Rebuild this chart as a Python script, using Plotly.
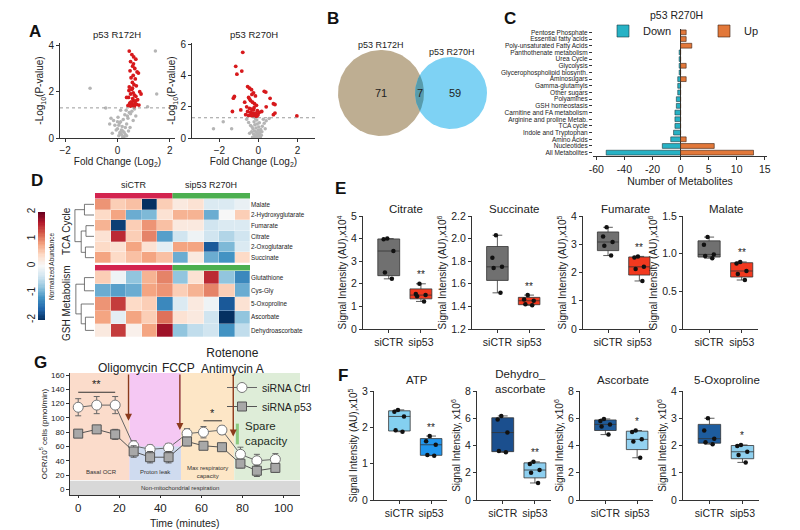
import numpy as np
import plotly.graph_objects as go

# page is 800x530; the html body has an 8 px margin, so the figure is 792x522 placed at (8, 8)
OFF = 8
W, H = 800 - OFF, 530 - OFF
FONT = "Arial, Liberation Sans, Helvetica, sans-serif"
INK = "#222222"


def dx(a, b):
    return [(a - OFF) / W, (b - OFF) / W]


def dy(top, bottom):
    return [1 - (bottom - OFF) / H, 1 - (top - OFF) / H]


def px(x):
    return (x - OFF) / W


def py(y):
    return 1 - (y - OFF) / H


# ======================= DATA =======================
# ---- A: volcano p53 R172H (log2 fold change, -log10 p) ----
r172_sig_fc = [0.45, 0.55, 0.62, 0.50, 0.70, 0.58, 0.66, 0.48, 0.75, 0.60, 0.52, 0.68, 0.80, 0.57, 0.63,
               0.72, 0.45, 0.55, 0.85, 0.60, 0.50, 0.65, 0.70, 0.42, 0.58, 0.77, 0.62, 0.53, 0.47, 0.67,
               0.73, 0.56, 0.40, 0.60, 0.82, 0.50, 0.64, 0.69, 0.44, 0.57, 0.61, 0.90, 0.35, 0.52]
r172_sig_p = [3.75, 3.60, 3.50, 3.30, 3.40, 3.10, 3.00, 2.90, 2.85, 2.70, 2.60, 2.55, 2.80, 2.40, 2.30,
              2.25, 2.20, 2.10, 2.00, 1.95, 1.90, 1.85, 1.80, 1.75, 1.70, 1.65, 1.60, 1.55, 1.50, 1.50,
              1.45, 1.45, 1.40, 1.40, 1.42, 1.38, 1.36, 1.60, 2.05, 2.15, 3.20, 1.90, 1.75, 1.55]
r172_ns_fc = [-1.05, 1.45, 1.50, 1.15, -0.45, 0.05, 0.10, 0.15, 0.20, 0.25, 0.00, -0.05, -0.10, 0.30, 0.35,
              0.12, 0.18, 0.22, 0.08, 0.02, -0.15, 0.28, 0.40, 0.45, 0.33, 0.38, 0.50, 0.55, 0.25, 0.15,
              0.05, -0.20, -0.30, 0.60, 0.42, 0.30, 0.20, 0.10, 0.48, 0.35, 0.65, 0.70, -0.25, 0.00, 0.12]
r172_ns_p = [2.15, 3.75, 1.90, 1.35, 1.30, 0.10, 0.20, 0.15, 0.30, 0.25, 0.40, 0.35, 0.55, 0.45, 0.60,
             0.70, 0.50, 0.80, 0.65, 0.90, 0.75, 1.00, 0.85, 1.10, 1.20, 0.95, 1.05, 1.15, 0.05, 0.35,
             0.55, 0.20, 0.60, 0.75, 0.30, 0.15, 0.05, 0.25, 0.45, 0.10, 1.25, 0.95, 0.85, 0.70, 1.20]
# ---- A: volcano p53 R270H ----
r270_sig_fc = [-0.80, -1.16, -1.10, -0.85, -1.23, -1.28, -1.33, 0.30, 0.38, 0.60, 0.77, 0.85, 0.40, 0.17,
               0.77, 0.85, 1.97,
               -0.55, -0.45, -0.35, -0.25, -0.15, -0.50, -0.40, -0.30, -0.20, -0.10, -0.60, -0.45, -0.35,
               -0.25, -0.05, -0.55, -0.40, -0.30, -0.20, -0.15, -0.65, -0.50, -0.38, -0.28, -0.18, -0.08,
               -0.45, -0.33, -0.22, -0.12, -0.70, -0.90, -0.02, 0.05]
r270_sig_p = [5.50, 4.60, 4.10, 4.30, 2.67, 2.56, 1.70, 3.00, 2.95, 2.55, 2.20, 2.15, 2.00, 1.70,
              1.50, 1.60, 1.42,
              3.30, 3.20, 3.10, 2.90, 2.70, 2.60, 2.40, 2.30, 2.20, 2.10, 2.00, 1.90, 1.85,
              1.80, 1.75, 1.70, 1.65, 1.60, 1.55, 1.50, 1.50, 1.45, 1.45, 1.40, 1.40, 1.40,
              2.50, 2.80, 1.95, 1.60, 2.30, 1.80, 1.50, 1.65]
r270_ns_fc = [-2.30, -1.80, -1.37, -0.30, -0.20, -0.10, 0.00, 0.10, -0.25, -0.15, -0.05, 0.05, 0.15, -0.35,
              -0.20, -0.10, 0.00, 0.08, -0.28, -0.12, 0.02, 0.12, -0.40, -0.18, -0.06, 0.20, 0.30, -0.50,
              0.40, -0.08, -0.22, 0.25, -0.15, 0.05, -0.32, -0.02, 0.18, -0.45, 0.35, -0.60, 0.55]
r270_ns_p = [0.60, 1.05, 0.60, 0.05, 0.10, 0.08, 0.12, 0.06, 0.25, 0.20, 0.30, 0.22, 0.18, 0.40,
             0.45, 0.38, 0.50, 0.35, 0.60, 0.65, 0.70, 0.55, 0.80, 0.85, 0.90, 0.75, 0.95, 1.00,
             1.10, 1.15, 1.05, 1.20, 1.25, 0.98, 0.70, 0.15, 0.40, 0.30, 0.60, 1.20, 1.25]
p_threshold = 1.3

# ---- B: Venn ----
venn_names = ["p53 R172H", "p53 R270H"]
venn_counts = [71, 7, 59]

# ---- C: pathway counts (p53 R270H) ----
pathways = ["Pentose Phosphate", "Essential fatty acids", "Poly-unsaturated Fatty Acids",
            "Panthothenate metabolism", "Urea Cycle", "Glycolysis", "Glycerophospholipid biosynth.",
            "Aminosugars", "Gamma-glutamyls", "Other sugars", "Polyamines", "GSH homeostasis",
            "Carnitine and FA metabolism", "Arginine and proline Metab.", "TCA cycle",
            "Indole and Tryptophan", "Amino Acids", "Nucleotides", "All Metabolites"]
down_counts = [0, 0, 0, 1, 1, 1, 1, 2, 2, 2, 3, 3, 4, 4, 4, 5, 7, 13, 53]
up_counts = [1, 1, 2, 0, 0, 1, 0, 1, 0, 0, 0, 0, 0, 0, 0, 0, 1, 6, 13]
c_ticks = [-60, -40, -20, 0, 5, 10, 15]
C_NEG_SCALE = 4  # left half of the axis is compressed 4x

# ---- D: heatmap (normalized abundance) ----
groups = ["siCTR", "sip53 R270H"]
tca_rows = ["Malate", "2-Hydroxyglutarate", "Fumarate", "Citrate", "2-Oxoglutarate", "Succinate"]
tca_vals = [
    [0.9, 0.5, 0.6, -2.0, 0.5, 0.2, 0.3, -0.3, -0.3, -0.15],
    [0.4, 0.8, -1.0, -0.9, 0.3, 0.7, 0.7, -1.0, 0.0, 0.5],
    [0.7, -1.9, 0.5, 0.9, 0.6, 0.2, 0.2, -0.4, -0.3, -0.3],
    [0.3, 1.5, 0.5, 1.0, -1.1, -0.4, -0.1, -0.4, -0.6, -0.4],
    [0.4, 0.3, 0.8, 0.3, -0.2, 0.8, 0.8, -1.7, -0.9, -0.3],
    [0.8, 0.4, 0.6, 0.8, 0.6, -1.0, 0.2, -1.0, -1.2, 0.4],
]
gsh_rows = ["Glutathione", "Cys-Gly", "5-Oxoproline", "Ascorbate", "Dehydroascorbate"]
gsh_vals = [
    [0.5, -0.1, -0.8, 0.7, 1.0, -0.8, 0.3, 1.5, -0.8, -1.3],
    [-1.0, -1.1, -1.0, 0.8, 0.9, 0.5, 0.7, 1.0, 0.5, -1.0],
    [0.9, 1.4, 0.4, 0.5, -1.3, -0.3, 0.2, -0.1, -1.7, 0.3],
    [0.8, -0.2, 0.8, 0.5, 1.1, 0.3, 0.2, -0.4, -2.0, -0.8],
    [0.2, 1.4, 0.1, 0.8, 1.7, -0.8, -0.5, -0.4, -1.2, -0.5],
]
# row clustering: (node a, node b, merge height)
tca_linkage = [(0, 1, 0.50), (2, 3, 0.42), (4, 5, 0.45), (7, 8, 0.67), (6, 9, 1.00)]
gsh_linkage = [(0, 1, 0.50), (3, 4, 0.45), (2, 6, 0.67), (5, 7, 0.95)]
cbar_ticks = [-2, -1, 0, 1, 2]

# ---- E: TCA metabolites (siCTR vs sip53) ----
e_names = ["Citrate", "Succinate", "Fumarate", "Malate"]
e_exp = [4, 6, 5, 6]
e_ctr = [[4.0, 3.97, 3.45, 2.5, 2.22], [2.03, 1.83, 1.75, 1.74, 1.52],
         [3.6, 3.27, 3.08, 2.95, 2.6], [1.22, 1.12, 0.99, 0.97, 0.94]]
e_p53 = [[2.0, 1.55, 1.5, 1.45, 1.22], [1.50, 1.46, 1.45, 1.42, 1.41],
         [2.57, 2.53, 2.2, 2.12, 1.7], [0.89, 0.87, 0.77, 0.73, 0.65]]
e_stars = ["**", "**", "**", "**"]

# ---- F: ATP / GSH metabolites ----
f_names = ["ATP", "Dehydro_<br>ascorbate", "Ascorbate", "5-Oxoproline"]
f_ytitles = ["Signal Intensity (AU),x10<sup>5</sup>", "Signal Intensity, x10<sup>6</sup>",
             "Signal Intensity, x10<sup>6</sup>", "Signal Intensity, x10<sup>6</sup>"]
f_ctr = [[2.48, 2.43, 2.3, 1.92, 1.88], [6.17, 5.9, 4.95, 3.6, 3.5],
         [5.95, 5.8, 5.55, 5.4, 4.8], [3.0, 2.55, 2.25, 2.12, 2.05]]
f_p53 = [[1.76, 1.62, 1.52, 1.24, 1.22], [2.8, 2.65, 2.2, 2.0, 1.25],
         [5.1, 5.0, 4.45, 4.3, 3.1], [2.02, 1.98, 1.77, 1.65, 1.38]]
f_stars = ["**", "**", "*", "*"]
box_groups = ["siCTR", "sip53"]

# ---- G: Seahorse OCR ----
g_time = [0, 9, 18, 27, 35, 44, 53, 61, 70, 79, 87, 96]
g_ctrl = [115, 118, 118, 61, 56, 58, 78, 80, 83, 49, 40, 42]
g_ctrl_err = [12, 12, 12, 7, 6, 6, 7, 8, 6, 10, 9, 8]
g_p53 = [78, 84, 77, 53, 45, 45, 67, 61, 59, 36, 26, 30]
g_p53_err = [5, 4, 7, 8, 8, 8, 6, 4, 5, 6, 8, 6]
injections = ["Oligomycin", "FCCP", "Rotenone<br>Antimycin A"]
inj_times = [25, 50, 76]
region_names = ["Basal OCR", "Proton leak", "Max respiratory<br>capacity"]

# ======================= FIGURE =======================
fig = go.Figure()
L = dict(width=W, height=H, margin=dict(l=0, r=0, t=0, b=0, autoexpand=False), paper_bgcolor="white",
         plot_bgcolor="rgba(0,0,0,0)", font=dict(family=FONT, color=INK, size=10),
         hovermode=False, barmode="overlay", boxmode="overlay")
ann = []
shp = []


def axis(**kw):
    base = dict(showgrid=False, zeroline=False, showline=True, linecolor="#333333", linewidth=1,
                ticks="outside", ticklen=3, tickwidth=1, tickcolor="#333333", automargin=False,
                tickfont=dict(size=10, family=FONT, color=INK))
    base.update(kw)
    return base


def label(x, y, text, size=10, color=INK, **kw):
    d = dict(x=x, y=y, xref="paper", yref="paper", text=text, showarrow=False,
             xanchor="center", yanchor="middle",
             font=dict(size=size, family=FONT, color=color))
    d.update(kw)
    ann.append(d)


# panel letters
for letter, (lx, ly) in zip("ABCDEFG", [(35, 32), (333, 18), (510, 19), (37, 180), (340, 188),
                                         (343, 375), (40, 362)]):
    label(px(lx), py(ly), "<b>%s</b>" % letter, 17, color="#111")

# ---------------- A ----------------
volc = [
    ("x", "y", dx(60, 175), [-2.2, 2.2], [0, 2, 4], [0, 4.1], venn_names[0],
     r172_sig_fc, r172_sig_p, r172_ns_fc, r172_ns_p),
    ("x2", "y2", dx(192, 315), [-3.4, 2.9], [0, 2, 4, 6], [0, 6.1], venn_names[1],
     r270_sig_fc, r270_sig_p, r270_ns_fc, r270_ns_p),
]
for xa, ya, xd, xr, ytv, yr, title, sfc, sp, nfc, npv in volc:
    xkey = "xaxis" + xa[1:]
    ykey = "yaxis" + ya[1:]
    L[xkey] = axis(domain=xd, range=xr, tickvals=[-2, 0, 2], anchor=ya,
                   title=dict(text="Fold Change (Log<sub>2</sub>)", font=dict(size=10), standoff=1))
    L[ykey] = axis(domain=dy(43, 138), range=yr, tickvals=ytv, anchor=xa,
                   title=dict(text="-Log<sub>10</sub>(P-value)", font=dict(size=10), standoff=2))
    fig.add_trace(go.Scatter(x=nfc, y=npv, mode="markers", xaxis=xa, yaxis=ya, showlegend=False,
                             marker=dict(size=3.5, color="#b5b5b5")))
    fig.add_trace(go.Scatter(x=sfc, y=sp, mode="markers", xaxis=xa, yaxis=ya, showlegend=False,
                             marker=dict(size=3.8, color="#d7191c")))
    shp.append(dict(type="line", xref=xa, yref=ya, x0=xr[0], x1=xr[1], y0=p_threshold, y1=p_threshold,
                    line=dict(color="#9a9a9a", width=1, dash="dot")))
    mid = (xd[0] + xd[1]) / 2
    label(mid, py(35), title, 9.5)

# ---------------- B: Venn ----------------
L["xaxis3"] = dict(domain=dx(330, 500), range=[330, 500], visible=False, anchor="y3")
L["yaxis3"] = dict(domain=dy(30, 150), range=[150, 30], visible=False, anchor="x3")
c1 = (381.0, 93.0, 43.0)
c2 = (451.0, 93.0, 36.0)
th = np.linspace(0, 2 * np.pi, 160)
for (cx, cy, r), col in [(c1, "rgb(190,174,146)"), (c2, "rgb(126,210,244)")]:
    fig.add_trace(go.Scatter(x=cx + r * np.cos(th), y=cy + r * np.sin(th), mode="lines", fill="toself",
                             fillcolor=col, line=dict(width=0, color=col), xaxis="x3", yaxis="y3",
                             showlegend=False))
d = c2[0] - c1[0]
a = (c1[2] ** 2 - c2[2] ** 2 + d ** 2) / (2 * d)
hh = np.sqrt(c1[2] ** 2 - a ** 2)
phi1 = np.arctan2(hh, a)
phi2 = np.arctan2(hh, a - d)
t1 = np.linspace(-phi1, phi1, 40)
t2 = np.linspace(phi2, 2 * np.pi - phi2, 40)
lx = np.concatenate([c1[0] + c1[2] * np.cos(t1), c2[0] + c2[2] * np.cos(t2)])
ly = np.concatenate([c1[1] + c1[2] * np.sin(t1), c2[1] + c2[2] * np.sin(t2)])
fig.add_trace(go.Scatter(x=lx, y=ly, mode="lines", fill="toself", fillcolor="rgb(88,156,172)",
                         line=dict(width=0, color="rgb(88,156,172)"), xaxis="x3", yaxis="y3",
                         showlegend=False))
for xx, yy, txt, sz in [(c1[0], 45, venn_names[0], 9), (c2[0] + 1, 52, venn_names[1], 9),
                        (c1[0], c1[1], str(venn_counts[0]), 11),
                        ((c1[0] + c1[2] + c2[0] - c2[2]) / 2, c1[1], str(venn_counts[1]), 11),
                        (c2[0] + 4, c2[1], str(venn_counts[2]), 11)]:
    ann.append(dict(x=xx, y=yy, xref="x3", yref="y3", text=txt, showarrow=False,
                    font=dict(size=sz, family=FONT, color=INK)))

# ---------------- C: bars ----------------
ctv = [v / C_NEG_SCALE if v < 0 else v for v in c_ticks]
L["xaxis4"] = axis(domain=dx(593, 767), range=[-15.6, 15.4], tickvals=ctv,
                   ticktext=[str(v) for v in c_ticks], anchor="y4",
                   tickfont=dict(size=10.5, family=FONT, color=INK),
                   zeroline=True, zerolinecolor="#333333", zerolinewidth=1,
                   title=dict(text="Number of Metabolites", font=dict(size=10.5), standoff=3))
L["yaxis4"] = dict(domain=dy(29, 156), anchor="x4", autorange="reversed", showline=False,
                   tickmode="array", tickvals=pathways, ticktext=pathways, automargin=False,
                   ticks="outside", ticklen=3, tickcolor="#333", showgrid=False, zeroline=False,
                   tickfont=dict(size=6.5, family=FONT, color=INK))
fig.add_trace(go.Bar(y=pathways, x=[-v / C_NEG_SCALE for v in down_counts], orientation="h", name="Down",
                     width=0.72, marker=dict(color="#27b2c5", line=dict(color="#1b3a40", width=0.6)),
                     xaxis="x4", yaxis="y4", legend="legend"))
fig.add_trace(go.Bar(y=pathways, x=up_counts, orientation="h", name="Up", width=0.72,
                     marker=dict(color="#e2783a", line=dict(color="#3a2010", width=0.6)),
                     xaxis="x4", yaxis="y4", legend="legend"))
label(px(676), py(15), "p53 R270H", 10.5)
L["legend"] = dict(orientation="h", x=px(603), y=py(31), xanchor="left", yanchor="middle",
                   font=dict(size=11, family=FONT, color=INK), entrywidth=56, entrywidthmode="pixels",
                   bgcolor="rgba(0,0,0,0)", itemwidth=30)

# ---------------- D: heatmaps ----------------
rdbu = ["#053061", "#2166ac", "#4393c3", "#92c5de", "#d1e5f0", "#f7f7f7",
        "#fddbc7", "#f4a582", "#d6604d", "#b2182b", "#67001f"]
HM = [[i / 10, c] for i, c in enumerate(rdbu)]
ncol = len(tca_vals[0])
half = ncol // 2
for xa, ya, xk, yk, rows, vals, top, bottom, bar_top in [
        ("x5", "y5", "xaxis5", "yaxis5", tca_rows, tca_vals, 199, 263, 193),
        ("x6", "y6", "xaxis6", "yaxis6", gsh_rows, gsh_vals, 271, 337, 265)]:
    n = len(rows)
    L[xk] = dict(domain=dx(95, 250), range=[-0.5, ncol - 0.5], visible=False, anchor=ya)
    L[yk] = dict(domain=dy(top, bottom), range=[n - 0.5, -0.5], anchor=xa, side="right",
                 tickvals=list(range(n)), ticktext=rows, ticks="", showline=False, showgrid=False,
                 zeroline=False, automargin=False, tickfont=dict(size=6.3, family=FONT, color=INK))
    fig.add_trace(go.Heatmap(z=vals, x=list(range(ncol)), y=list(range(n)), colorscale=HM, zmin=-2,
                             zmax=2, showscale=False, xaxis=xa, yaxis=ya, xgap=0.3, ygap=0.3))
    shp.append(dict(type="rect", xref=xa, yref="paper", x0=-0.5, x1=half - 0.5, y0=py(bar_top + 5.5),
                    y1=py(bar_top), fillcolor="#d3244f", line=dict(width=0)))
    shp.append(dict(type="rect", xref=xa, yref="paper", x0=half - 0.5, x1=ncol - 0.5,
                    y0=py(bar_top + 5.5), y1=py(bar_top), fillcolor="#4caf50", line=dict(width=0)))
ann.append(dict(x=(half - 1) / 2, y=py(185), xref="x5", yref="paper", text=groups[0], showarrow=False,
                xanchor="center", yanchor="middle", font=dict(size=9, family=FONT, color=INK)))
ann.append(dict(x=(half + ncol - 1) / 2, y=py(185), xref="x5", yref="paper", text=groups[1],
                xanchor="center", yanchor="middle",
                showarrow=False, font=dict(size=9, family=FONT, color=INK)))


def dendro(linkage, n):
    pos = {i: float(i) for i in range(n)}
    hgt = {i: 0.0 for i in range(n)}
    xs, ys = [], []
    for k, (aa, bb, h) in enumerate(linkage):
        xs += [hgt[aa], h, h, hgt[bb], None]
        ys += [pos[aa], pos[aa], pos[bb], pos[bb], None]
        pos[n + k] = (pos[aa] + pos[bb]) / 2
        hgt[n + k] = h
    return xs, ys


for xk, xa, ya, link, n in [("xaxis7", "x7", "y5", tca_linkage, len(tca_rows)),
                            ("xaxis8", "x8", "y6", gsh_linkage, len(gsh_rows))]:
    L[xk] = dict(domain=dx(73, 94), range=[1.1, 0], visible=False, anchor=ya)
    xs, ys = dendro(link, n)
    fig.add_trace(go.Scatter(x=xs, y=ys, mode="lines", line=dict(color="#555555", width=0.8),
                             xaxis=xa, yaxis=ya, showlegend=False))

# colour key
L["xaxis9"] = dict(domain=dx(38, 45), range=[-0.5, 0.5], visible=False, anchor="y9")
L["yaxis9"] = dict(domain=dy(212, 320), range=[-2, 2], anchor="x9", tickvals=cbar_ticks,
                   ticktext=[str(v) for v in cbar_ticks], tickangle=-90, ticks="", showline=False,
                   showgrid=False, zeroline=False, automargin=False,
                   tickfont=dict(size=10, family=FONT, color=INK))
levels = np.linspace(-2, 2, 81)
fig.add_trace(go.Heatmap(z=[[v] for v in levels], x=[0], y=levels, colorscale=HM, zmin=-2, zmax=2,
                         showscale=False, xaxis="x9", yaxis="y9"))
label(px(51), py(266), "Normalized Abundance", 6.5, textangle=-90)
label(px(66), py(231), "TCA Cycle", 10, textangle=-90)
label(px(66), py(303), "GSH Metabolism", 10, textangle=-90)


# ---------------- E & F: box plots ----------------
def box_panel(idx, xd, ydom, yr, tv, tt, ytitle, ctr, p53, cfill, pfill, star, title, title_y):
    xa, ya = "x%d" % idx, "y%d" % idx
    L["xaxis%d" % idx] = axis(domain=dx(*xd), range=[-0.8, 1.5], tickvals=[0, 1], ticktext=box_groups,
                              anchor=ya, tickangle=0, tickfont=dict(size=10.5, family=FONT, color=INK))
    L["yaxis%d" % idx] = axis(domain=dy(*ydom), range=yr, tickvals=tv, ticktext=tt, anchor=xa,
                              tickfont=dict(size=10.5, family=FONT, color=INK),
                              title=dict(text=ytitle, font=dict(size=10), standoff=2))
    for pos, vals, fill in [(0, ctr, cfill), (1, p53, pfill)]:
        fig.add_trace(go.Box(x=[pos] * len(vals), y=vals, width=0.68, fillcolor=fill,
                             line=dict(color="#333333", width=0.8), boxpoints="all", jitter=0.55,
                             pointpos=0, marker=dict(color="#111111", size=4.5), whiskerwidth=0.45,
                             quartilemethod="exclusive", xaxis=xa, yaxis=ya, showlegend=False))
    ann.append(dict(x=1, y=max(p53), xref=xa, yref=ya, text=star, showarrow=False, yshift=9,
                    font=dict(size=10, family=FONT, color="#222222")))
    label(px((xd[0] + xd[1]) / 2 + 6), py(title_y), title, 11.5)


e_xd = [(363, 437), (472, 545), (583, 655), (683, 758)]
e_yr = [[0, 5], [1.2, 2.2], [0, 4], [0, 1.5]]
e_tv = [[0, 1, 2, 3, 4, 5], [1.2, 1.4, 1.6, 1.8, 2.0, 2.2], [0, 1, 2, 3, 4], [0, 0.5, 1.0, 1.5]]
e_tt = [["0", "1", "2", "3", "4", "5"], ["1.2", "1.4", "1.6", "1.8", "2.0", "2.2"],
        ["0", "1", "2", "3", "4"], ["0", "0.5", "1.0", "1.5"]]
for i in range(4):
    box_panel(10 + i, e_xd[i], (216, 329), e_yr[i], e_tv[i], e_tt[i],
              "Signal Intensity (AU),x10<sup>%d</sup>" % e_exp[i], e_ctr[i], e_p53[i],
              "#707070", "#f2391f", e_stars[i], e_names[i], 209)

f_xd = [(374, 447), (477, 551), (580, 653), (683, 759)]
f_yr = [[0, 3], [0, 8], [0, 8], [0, 4]]
f_tv = [[0, 1, 2, 3], [0, 2, 4, 6, 8], [0, 2, 4, 6, 8], [0, 1, 2, 3, 4]]
f_cfill = ["#84d0f0", "#1b4f8e", "#1f5b9a", "#1d5c9e"]
f_pfill = ["#2196ee", "#8dcff0", "#94d2f1", "#8fd0ef"]
f_ty = [380, 381, 380, 380]
for i in range(4):
    box_panel(14 + i, f_xd[i], (391, 500), f_yr[i], f_tv[i], [str(v) for v in f_tv[i]], f_ytitles[i],
              f_ctr[i], f_p53[i], f_cfill[i], f_pfill[i], f_stars[i], f_names[i], f_ty[i])

# ---------------- G: OCR ----------------
GX = [-4, 108]
GY = [-8, 163]
BASE = 13
L["xaxis18"] = axis(domain=dx(70, 300), range=GX, tickvals=[0, 20, 40, 60, 80, 100], anchor="y18",
                    ticklen=2, tickfont=dict(size=11.5, family=FONT, color=INK))
L["yaxis18"] = axis(domain=dy(373, 495), range=GY, tickvals=[0, 20, 40, 60, 80, 100, 120, 140, 160],
                    anchor="x18", tickfont=dict(size=8, family=FONT, color=INK),
                    title=dict(text="OCR/10<sup>5</sup> cells (pmol/min)", font=dict(size=8), standoff=2))
label(px(185), py(523), "Time (minutes)", 10.5)
edges = [GX[0]] + inj_times + [GX[1]]
region_cols = ["#fbdccb", "#f5c8f3", "#fde6c6", "#deedd8"]
for j in range(4):
    shp.append(dict(type="rect", xref="x18", yref="y18", x0=edges[j], x1=edges[j + 1], y0=BASE, y1=GY[1],
                    fillcolor=region_cols[j], line=dict(width=0), layer="below"))
shp.append(dict(type="rect", xref="x18", yref="y18", x0=edges[1], x1=edges[2], y0=BASE, y1=60,
                fillcolor="#cfdbef", line=dict(width=0), layer="below"))
shp.append(dict(type="rect", xref="x18", yref="y18", x0=GX[0], x1=GX[1], y0=GY[0], y1=BASE - 1,
                fillcolor="#d8d8d8", line=dict(width=0), layer="below"))
for j, nm in enumerate(region_names):
    ann.append(dict(x=(edges[j] + edges[j + 1]) / 2 + (1 if j == 0 else 0), y=24, xref="x18", yref="y18",
                    text=nm, showarrow=False, font=dict(size=6, family=FONT, color="#333")))
ann.append(dict(x=(inj_times[0] + inj_times[2]) / 2 - 1, y=2.5, xref="x18", yref="y18",
                text="Non-mitochondrial respiration", showarrow=False,
                font=dict(size=6, family=FONT, color="#333")))
arrow_tips = [96, 83, 74]
for t, tip, nm in zip(inj_times, arrow_tips, injections):
    ann.append(dict(x=t - 0.5, y=tip, xref="x18", yref="y18", ax=t - 0.5, ay=GY[1], axref="x18",
                    ayref="y18", text="", showarrow=True, arrowhead=2, arrowsize=1, arrowwidth=1.4,
                    arrowcolor="#8b3a1c"))
    ann.append(dict(x=t - 1, y=py(368) if "<br>" not in nm else py(361), xref="x18", yref="paper",
                    xanchor="center", yanchor="middle",
                    text=nm, showarrow=False, font=dict(size=12, family=FONT, color=INK)))
fig.add_trace(go.Scatter(x=g_time, y=g_ctrl, mode="lines+markers", name="siRNA Ctrl",
                         line=dict(color="#666666", width=1),
                         marker=dict(symbol="circle", size=10, color="white",
                                     line=dict(color="#777777", width=1)),
                         error_y=dict(type="data", array=g_ctrl_err, color="#666666", thickness=1, width=3),
                         xaxis="x18", yaxis="y18", legend="legend2"))
fig.add_trace(go.Scatter(x=g_time, y=g_p53, mode="lines+markers", name="siRNA p53",
                         line=dict(color="#555555", width=1),
                         marker=dict(symbol="square", size=9, color="#a8a8a8",
                                     line=dict(color="#555555", width=1)),
                         error_y=dict(type="data", array=g_p53_err, color="#555555", thickness=1, width=3),
                         xaxis="x18", yaxis="y18", legend="legend2"))
# significance brackets
shp.append(dict(type="line", xref="x18", yref="y18", x0=g_time[0], x1=g_time[2], y0=136, y1=136,
                line=dict(color="#333", width=1)))
ann.append(dict(x=(g_time[0] + g_time[2]) / 2, y=136, xref="x18", yref="y18", text="**", showarrow=False,
                yanchor="bottom", font=dict(size=11, family=FONT, color=INK)))
shp.append(dict(type="line", xref="x18", yref="y18", x0=g_time[7], x1=g_time[8], y0=96, y1=96,
                line=dict(color="#333", width=1)))
ann.append(dict(x=(g_time[7] + g_time[8]) / 2, y=96, xref="x18", yref="y18", text="*", showarrow=False,
                yanchor="bottom", font=dict(size=11, family=FONT, color=INK)))
# spare capacity
shp.append(dict(type="line", xref="x18", yref="y18", x0=77.5, x1=77.5, y0=63, y1=92,
                line=dict(color="#8cc97e", width=3)))
ann.append(dict(x=80, y=78, xref="x18", yref="y18", text="Spare<br>capacity", showarrow=False,
                xanchor="left", align="left", font=dict(size=11.5, family=FONT, color="#1f2d1f")))
L["legend2"] = dict(x=px(222), y=py(373), xanchor="left", yanchor="top", bgcolor="rgba(0,0,0,0)",
                    font=dict(size=10.5, family=FONT, color=INK), itemwidth=30, tracegroupgap=0)

L["annotations"] = ann
L["shapes"] = shp
fig.update_layout(**L)
fig.write_html("out.html")
